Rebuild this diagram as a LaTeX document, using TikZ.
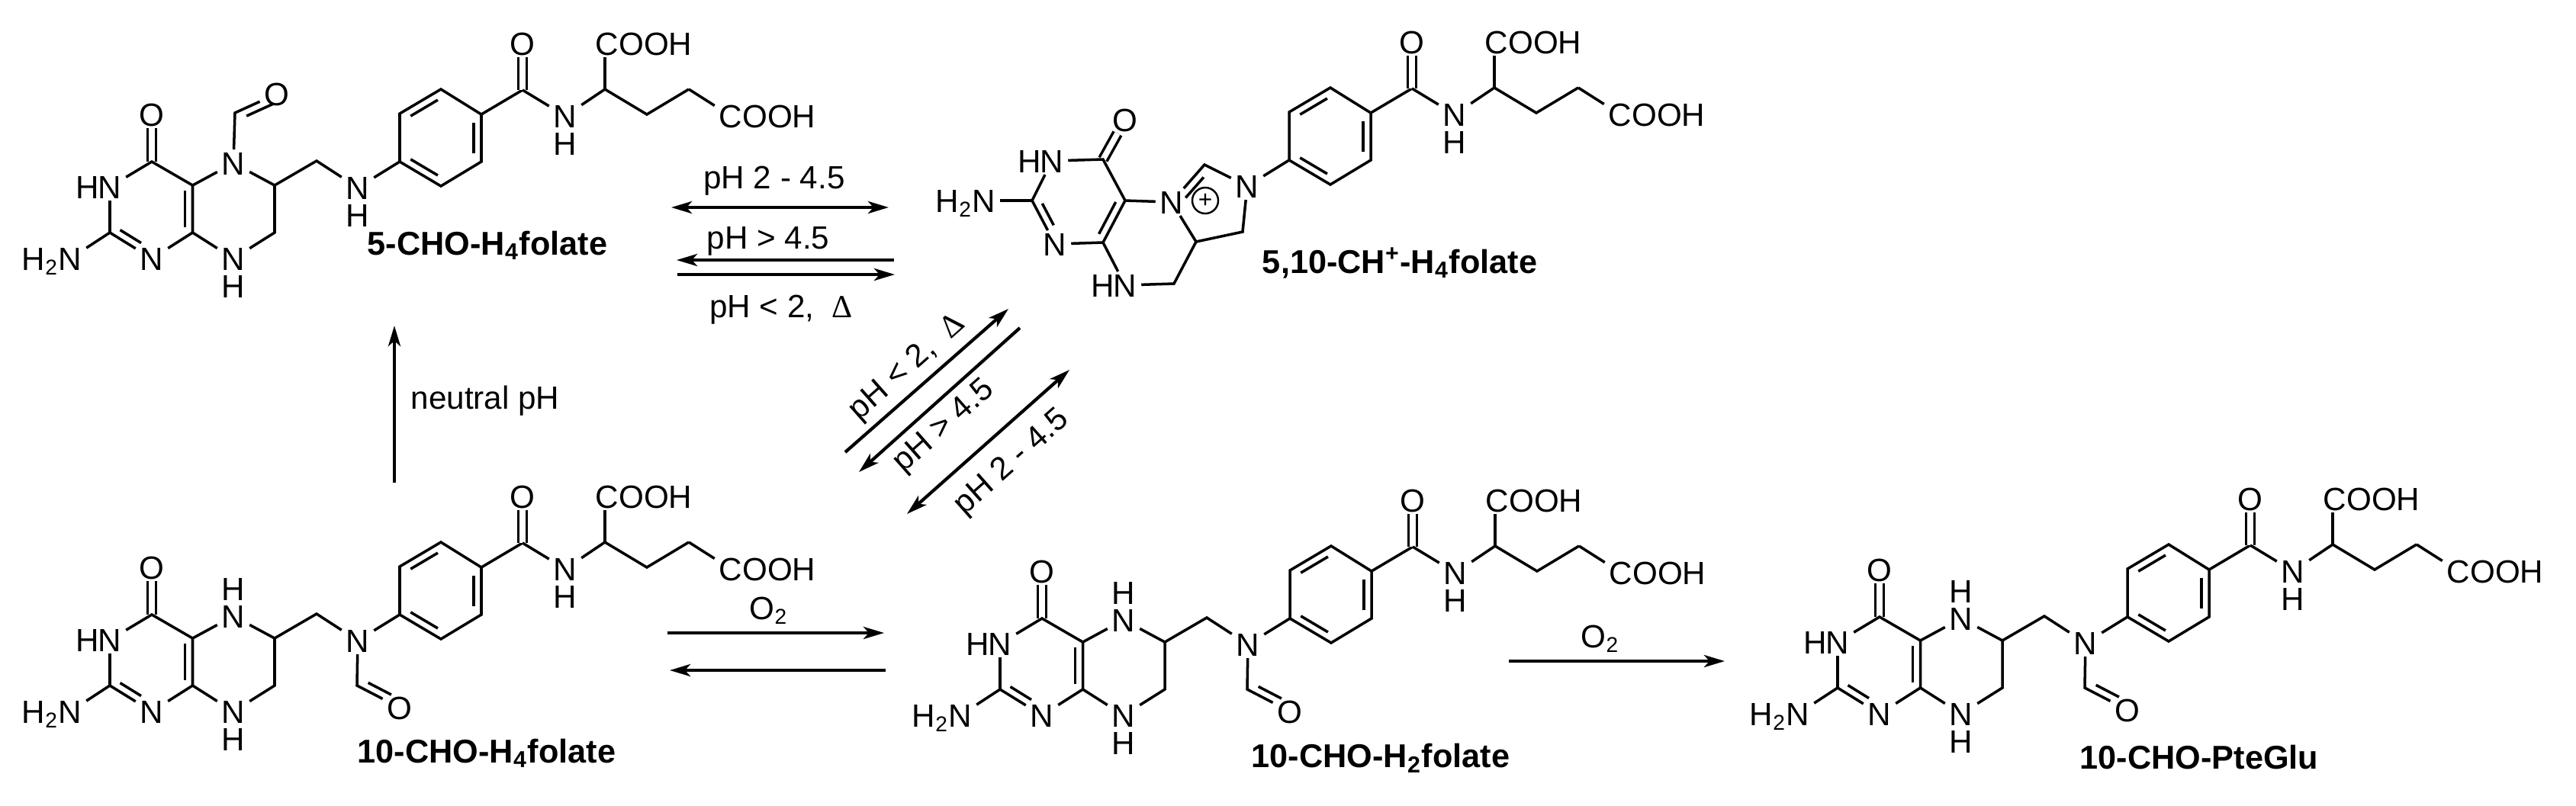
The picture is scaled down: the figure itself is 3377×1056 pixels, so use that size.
\documentclass[tikz,border=0pt]{standalone}
\usepackage{fontspec}
\setmainfont{Liberation Sans}
\newfontfamily\symbfont{Liberation Serif}
\usetikzlibrary{arrows.meta,calc,positioning}
\tikzset{
	bond/.style={line width=1pt},
	dbond/.style={double,double distance=.075cm,line width=1pt},
	atom/.style={inner xsep=.06cm,inner ysep=.03cm,outer sep=0,text height=.3cm,text depth=0pt,font=\fontsize{12}{14}\selectfont},
	plain/.style={inner sep=0pt,font=\fontsize{12}{14}\selectfont},
	compound/.style={inner sep=0pt,font=\bfseries\fontsize{12.3}{14}\selectfont},
	rxn/.style={line width=1.2pt,-{Stealth[length=.27cm,width=.16cm,inset=.07cm]}},
	rxnboth/.style={line width=1.2pt,{Stealth[length=.27cm,width=.16cm,inset=.07cm]}-{Stealth[length=.27cm,width=.16cm,inset=.07cm]}}
}
% second line of a double bond, on the left of a -> b
\newcommand{\inbond}[4]{\draw[bond] ($(#3)!#1!(#4)!.1cm!90:(#4)$) -- ($(#3)!#2!(#4)!.1cm!90:(#4)$);}
% benzene ring, amide and glutamate, with N10
\newcommand{\sidechain}[1]{
	\node[atom] (#1Nten) at (469,246) {N};
	\coordinate (#1b1) at (524,212);
	\coordinate (#1b2) at (578,244);
	\coordinate (#1b3) at (631,212);
	\coordinate (#1b4) at (631,150);
	\coordinate (#1b5) at (578,117);
	\coordinate (#1b6) at (524,149);
	\draw[bond] (#1b1) -- (#1b2) -- (#1b3) -- (#1b4) -- (#1b5) -- (#1b6) -- cycle;
	\inbond{.17}{.83}{#1b1}{#1b2}
	\inbond{.17}{.83}{#1b3}{#1b4}
	\inbond{.17}{.83}{#1b5}{#1b6}
	\draw[bond] (#1Nten) -- (#1b1);
	\coordinate (#1co) at (685,118);
	\node[atom] (#1coO) at (685,57) {O};
	\draw[bond] (#1b4) -- (#1co);
	\draw[dbond] (#1co) -- (#1coO);
	\node[atom] (#1am) at (741,152) {N};
	\node[atom,below=0pt of #1am] (#1amH) {H};
	\coordinate (#1ca) at (793,117);
	\coordinate (#1cb) at (848,150);
	\coordinate (#1cg) at (903,117);
	\draw[bond] (#1co) -- (#1am) -- (#1ca) -- (#1cb) -- (#1cg);
	\node[atom] (#1acC) at (796,57) {C};
	\node[atom,right=-.12cm of #1acC] (#1acR) {OOH};
	\draw[bond] (#1ca) -- (#1ca |- #1acC.south);
	\node[atom] (#1adC) at (958,152) {C};
	\node[atom,right=-.12cm of #1adC] (#1adR) {OOH};
	\draw[bond] (#1cg) -- (#1adC);
}
% pterin rings and the CH2 up to N10
\newcommand{\pterin}[1]{
	\coordinate (#1C4) at (199,212);
	\coordinate (#1C4a) at (252.5,243);
	\coordinate (#1C8a) at (252.5,305);
	\coordinate (#1C2) at (144,305);
	\coordinate (#1C6) at (360,243);
	\coordinate (#1C7) at (360,305);
	\coordinate (#1C9) at (415,211);
	\node[atom] (#1O4) at (199,150) {O};
	\node[atom] (#1N3) at (144,245) {N};
	\node[atom,left=-.13cm of #1N3] (#1N3H) {H};
	\node[atom] (#1N1) at (199,339) {N};
	\node[atom] (#1Nam) at (92,339) {N};
	\node[atom,left=-.12cm of #1Nam] (#1Nam2) {H\textsubscript{2}};
	\node[atom] (#1N8) at (306,339) {N};
	\node[atom,below=0pt of #1N8] (#1N8H) {H};
	\node[atom] (#1N5) at (306,214) {N};
	\draw[dbond] (#1C4) -- (#1O4);
	\draw[bond] (#1N3) -- (#1C4) -- (#1C4a) -- (#1C8a) -- (#1N1) -- (#1C2);
	\draw[bond] (#1C2) -- (#1C2 |- #1N3.south);
	\draw[bond] (#1Nam) -- (#1C2);
	\inbond{.12}{.88}{#1C8a}{#1C4a}
	\inbond{.15}{.65}{#1C2}{#1N1}
	\draw[bond] (#1C4a) -- (#1N5) -- (#1C6) -- (#1C7) -- (#1N8) -- (#1C8a);
	\draw[bond] (#1C6) -- (#1C9) -- (#1Nten);
}
% H on N5 and formyl on N10
\newcommand{\tenformyl}[1]{
	\node[atom,above=0pt of #1N5] (#1N5H) {H};
	\coordinate (#1cho) at (468,305);
	\node[atom] (#1choO) at (524,334) {O};
	\draw[bond] (#1Nten) -- (#1cho) -- (#1choO);
	\inbond{.18}{.72}{#1cho}{#1choO}
}
\begin{document}
\begin{tikzpicture}[x=.01cm,y=-.01cm]
	\useasboundingbox (0,0) rectangle (3377,1056);
	% 5-CHO-H4folate
	\sidechain{a}
	\pterin{a}
	\node[atom,below=0pt of aNten] (aNtenH) {H};
	\coordinate (acho) at (308,148);
	\node[atom] (achoO) at (363,123) {O};
	\draw[bond] (aN5) -- (acho) -- (achoO);
	\inbond{.15}{.8}{achoO}{acho}
	\node[compound] (alabel) at (639,322) {5-CHO-H\textsubscript{4}folate};
	% 5,10-CH+-H4folate
	\begin{scope}[shift={(1166,-2)}]
		\sidechain{b}
	\end{scope}
	\coordinate (bC4) at (1446,209);
	\coordinate (bC4a) at (1475,263);
	\coordinate (bC8a) at (1446,318);
	\coordinate (bC2) at (1353,263);
	\coordinate (bC6) at (1568,317);
	\coordinate (bC7) at (1539,372);
	\coordinate (bC9) at (1629,304);
	\coordinate (bC11) at (1579,216);
	\node[atom] (bO4) at (1475,157) {O};
	\node[atom] (bN3) at (1379,211) {N};
	\node[atom,left=-.13cm of bN3] (bN3H) {H};
	\node[atom] (bNam) at (1290,263) {N};
	\node[atom,left=-.12cm of bNam] (bNam2) {H\textsubscript{2}};
	\node[atom] (bN1) at (1383,320) {N};
	\node[atom] (bN8) at (1475,374) {N};
	\node[atom,left=-.13cm of bN8] (bN8H) {H};
	\node[atom] (bN5) at (1536,265) {N};
	\node[draw,circle,line width=.7pt,inner sep=0pt,minimum size=.34cm,font=\fontsize{9}{9}\selectfont] (bplus) at (1580,263) {+};
	\draw[dbond] (bC4) -- (bO4);
	\draw[bond] (bN3) -- (bC4) -- (bC4a) -- (bC8a) -- (bN1) -- (bC2) -- (bN3);
	\draw[bond] (bNam) -- (bC2);
	\inbond{.12}{.88}{bC8a}{bC4a}
	\inbond{.15}{.65}{bC2}{bN1}
	\draw[bond] (bC4a) -- (bN5) -- (bC6) -- (bC7) -- (bN8) -- (bC8a);
	\draw[bond] (bC6) -- (bC9) -- (bNten) -- (bC11) -- (bN5);
	\inbond{.2}{.75}{bC11}{bN5}
	\node[compound] (blabel) at (1835,345) {5,10-CH\textsuperscript{+}-H\textsubscript{4}folate};
	% 10-CHO-H4folate
	\begin{scope}[shift={(0,594)}]
		\sidechain{c}
		\pterin{c}
		\tenformyl{c}
		\node[compound] (clabel) at (638,394) {10-CHO-H\textsubscript{4}folate};
	\end{scope}
	% 10-CHO-H2folate
	\begin{scope}[shift={(1167,599)}]
		\sidechain{d}
		\pterin{d}
		\tenformyl{d}
		\node[compound] (dlabel) at (643,395) {10-CHO-H\textsubscript{2}folate};
	\end{scope}
	% 10-CHO-PteGlu
	\begin{scope}[shift={(2265,597)}]
		\sidechain{e}
		\pterin{e}
		\tenformyl{e}
		\node[compound] (elabel) at (618,396) {10-CHO-PteGlu};
	\end{scope}
	% horizontal equilibria, top
	\coordinate (hAs) at (880,272);
	\coordinate (hAe) at (1165,272);
	\coordinate (hBs) at (1172,341);
	\coordinate (hBe) at (887,341);
	\coordinate (hCs) at (888,360);
	\coordinate (hCe) at (1173,360);
	\draw[rxnboth] (hAs) -- (hAe);
	\draw[rxn] (hBs) -- (hBe);
	\draw[rxn] (hCs) -- (hCe);
	\node[plain,anchor=base] (hAt) at (1015,247) {pH 2 - 4.5};
	\node[plain,anchor=base] (hBt) at (1007,326) {pH > 4.5};
	\node[plain,anchor=base] (hCt) at (1024,416) {pH < 2,\ \ {\symbfont Δ}};
	% diagonal equilibria
	\coordinate (dAs) at (1108,593);
	\coordinate (dAe) at (1322,405);
	\coordinate (dBs) at (1337,430);
	\coordinate (dBe) at (1126,619);
	\coordinate (dCs) at (1402,485);
	\coordinate (dCe) at (1189,674);
	\draw[rxn] (dAs) -- (dAe);
	\draw[rxn] (dBs) -- (dBe);
	\draw[rxnboth] (dCs) -- (dCe);
	\node[plain,rotate=41.5] (dAt) at (1190,482) {pH < 2,\ \ {\symbfont Δ}};
	\node[plain,rotate=41.5] (dBt) at (1238,560) {pH > 4.5};
	\node[plain,rotate=41.5] (dCt) at (1327,607) {pH 2 - 4.5};
	% neutral pH
	\coordinate (nAs) at (517,633);
	\coordinate (nAe) at (517,427);
	\draw[rxn] (nAs) -- (nAe);
	\node[plain,anchor=base] (nAt) at (636,536) {neutral pH};
	% O2 arrows
	\coordinate (oAs) at (875,830);
	\coordinate (oAe) at (1159,830);
	\coordinate (oBs) at (1161,879);
	\coordinate (oBe) at (878,879);
	\coordinate (oCs) at (1978,867);
	\coordinate (oCe) at (2261,867);
	\draw[rxn] (oAs) -- (oAe);
	\draw[rxn] (oBs) -- (oBe);
	\draw[rxn] (oCs) -- (oCe);
	\node[plain,anchor=base] (oAt) at (1008,812) {O\textsubscript{2}};
	\node[plain,anchor=base] (oCt) at (2098,849) {O\textsubscript{2}};
\end{tikzpicture}
\end{document}
